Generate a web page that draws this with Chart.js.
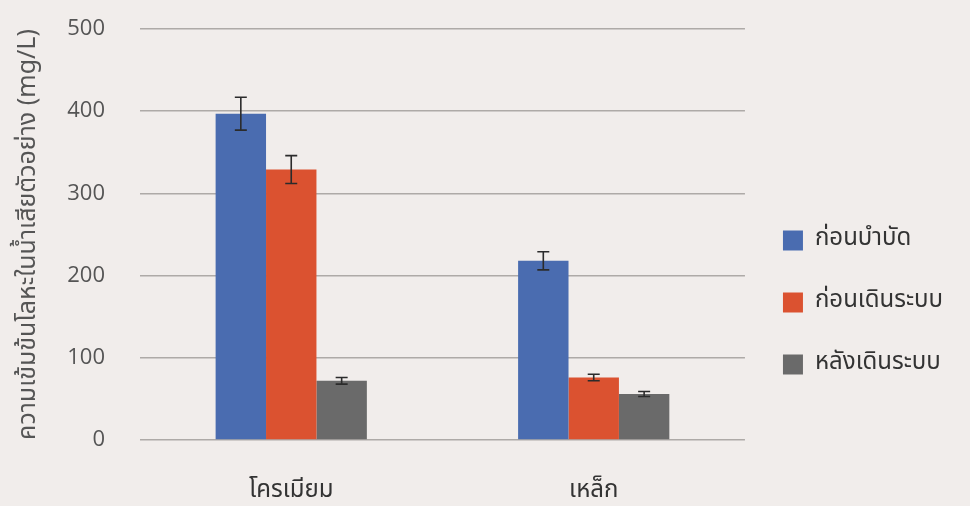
<!DOCTYPE html>
<html lang="th">
<head>
    <meta charset="UTF-8">
    <title>ความเข้มข้นโลหะในน้ำเสียตัวอย่าง</title>
    <script src="https://cdn.jsdelivr.net/npm/chart.js"></script>
    <style>
        html, body { margin: 0; padding: 0; background: #f1edeb; }
        .wrap { width: 970px; height: 506px; position: relative; }
    </style>
</head>
<body>
    <div class="wrap">
        <canvas id="metalChart" width="970" height="506"></canvas>
    </div>

    <script>
        // Metal concentration in the sample wastewater (mg/L)
        const metals = ['โครเมียม', 'เหล็ก'];
        const seriesNames = ['ก่อนบำบัด', 'ก่อนเดินระบบ', 'หลังเดินระบบ'];
        const beforeTreatment = [397, 218];
        const beforeRun = [329, 76];
        const afterRun = [72, 56];
        // +/- error for each bar
        const beforeTreatmentErr = [20, 11];
        const beforeRunErr = [17, 4];
        const afterRunErr = [4, 3];
        const yTicks = [0, 100, 200, 300, 400, 500];

        const colors = ['#4a6cb0', '#db5230', '#6a6a6a'];
        const fontFamily = "'Noto Sans Thai', 'Noto Sans', sans-serif";

        // draws the error whiskers on top of every bar
        const errorBars = {
            id: 'errorBars',
            afterDatasetsDraw(chart) {
                const ctx = chart.ctx;
                const yScale = chart.scales.y;
                chart.data.datasets.forEach((ds, i) => {
                    const meta = chart.getDatasetMeta(i);
                    meta.data.forEach((bar, j) => {
                        const v = ds.data[j];
                        const e = ds.errors[j];
                        const top = yScale.getPixelForValue(v + e);
                        const bottom = yScale.getPixelForValue(v - e);
                        ctx.save();
                        ctx.strokeStyle = '#2b2b2b';
                        ctx.lineWidth = 1.6;
                        ctx.beginPath();
                        ctx.moveTo(bar.x, top);
                        ctx.lineTo(bar.x, bottom);
                        ctx.moveTo(bar.x - 6, top);
                        ctx.lineTo(bar.x + 6, top);
                        ctx.moveTo(bar.x - 6, bottom);
                        ctx.lineTo(bar.x + 6, bottom);
                        ctx.stroke();
                        ctx.restore();
                    });
                });
            }
        };

        const ctx = document.getElementById('metalChart').getContext('2d');
        const metalChart = new Chart(ctx, {
            type: 'bar',
            data: {
                labels: metals,
                datasets: [
                    { label: seriesNames[0], data: beforeTreatment, errors: beforeTreatmentErr, backgroundColor: colors[0] },
                    { label: seriesNames[1], data: beforeRun, errors: beforeRunErr, backgroundColor: colors[1] },
                    { label: seriesNames[2], data: afterRun, errors: afterRunErr, backgroundColor: colors[2] }
                ]
            },
            options: {
                responsive: false,
                animation: false,
                layout: {
                    padding: { top: 29, right: 17, bottom: 0, left: 0 }
                },
                datasets: {
                    bar: { categoryPercentage: 0.5, barPercentage: 1.0 }
                },
                plugins: {
                    legend: {
                        position: 'right',
                        // empty title only pushes the entries down
                        title: {
                            display: true,
                            text: '',
                            padding: { top: 58, bottom: 0 },
                            font: { size: 10 }
                        },
                        labels: {
                            boxWidth: 20,
                            boxHeight: 20,
                            padding: 38,
                            color: '#333',
                            font: { family: fontFamily, size: 24, lineHeight: 0.9 }
                        }
                    },
                    tooltip: { enabled: false }
                },
                scales: {
                    x: {
                        grid: { display: false },
                        border: { display: false },
                        ticks: {
                            color: '#333',
                            padding: 30,
                            font: { family: fontFamily, size: 24 }
                        },
                        afterFit(scale) { scale.height = 66; }
                    },
                    y: {
                        min: 0,
                        max: 500,
                        afterBuildTicks(scale) {
                            scale.ticks = yTicks.map(v => ({ value: v }));
                        },
                        grid: { color: '#aeaaa7', lineWidth: 1.4, drawTicks: false },
                        border: { display: false },
                        ticks: {
                            color: '#555',
                            padding: 35,
                            font: { family: "'Open Sans', 'Noto Sans', sans-serif", size: 22 }
                        },
                        title: {
                            display: true,
                            text: 'ความเข้มข้นโลหะในน้ำเสียตัวอย่าง (mg/L)',
                            color: '#555',
                            padding: { top: 15, bottom: 0 },
                            font: { family: fontFamily, size: 25 }
                        },
                        afterFit(scale) {
                            scale.width = 140;
                            // tick padding should not push the plot down
                            scale.paddingTop = 0;
                            scale.paddingBottom = 0;
                        }
                    }
                }
            },
            plugins: [errorBars]
        });
    </script>
</body>
</html>
